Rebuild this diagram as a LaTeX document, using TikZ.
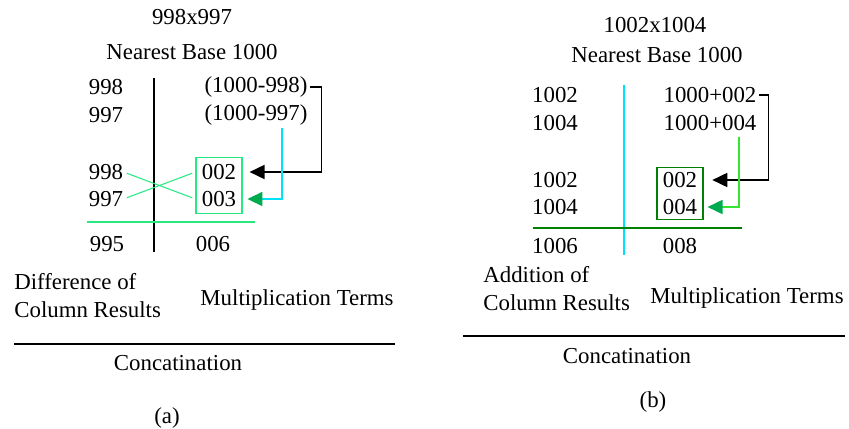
\documentclass[tikz,border=0pt]{standalone}
\usepackage{fontspec}
\setmainfont{Liberation Serif}
\usetikzlibrary{arrows.meta,fit}
\definecolor{springgreen}{RGB}{40,232,130}
\definecolor{brightcyan}{RGB}{0,225,250}
\definecolor{tipgreen}{RGB}{0,170,80}
\definecolor{boxgreen}{RGB}{0,128,0}
\definecolor{limegreen}{RGB}{50,230,50}
\begin{document}
\begin{tikzpicture}[x=0.02cm,y=-0.02cm]
        % Styles
        \tikzstyle{every node}=[inner sep=0pt,font=\fontsize{13}{16}\selectfont]
        \tikzstyle{column line}=[line width=0.6pt]
        \tikzstyle{base rule}=[line width=1.2pt]
        \tikzstyle{cross line}=[springgreen,line width=0.6pt,shorten <=2pt,shorten >=2pt]
        \tikzstyle{result box}=[draw,inner xsep=3pt,line width=0.9pt]
        \tikzstyle{link}=[line width=0.8pt,-{Triangle[length=8.5pt,width=8pt]}]
        %The graphic
        \useasboundingbox (0,0) rectangle (849,429);
        %(a) 998x997
        \node (ta) at (192,17) {998x997};
        \node (ba) at (192,52) {Nearest Base 1000};
        \node (a1) at (106,87) {998};
        \node (a2) at (106,115) {997};
        \node (ea1) at (256,87) {(1000-998)};
        \node (ea2) at (256,115) {(1000-997)};
        \node (a3) at (106,172) {998};
        \node (a4) at (106,199) {997};
        \node (da1) at (219,172) {002};
        \node (da2) at (219,199) {003};
        \node[result box,springgreen,inner ysep=3.6pt,fit=(da1)(da2)] (boxa) {};
        \node (ra1) at (107,244) {995};
        \node (ra2) at (213,244) {006};
        \node[align=left,anchor=west] (na) at (14,296) {Difference of\\Column Results};
        \node (ma) at (297,300) {Multiplication Terms};
        \node (ca) at (178,363) {Concatination};
        \node (la) at (167,418) {(a)};
        \coordinate (sa) at (282,128);
        %lines
        \draw[column line] (154,78) -- (154,252);
        \draw[springgreen,line width=0.9pt] (87,222) -- (255,222);
        \draw[cross line] (a3.east) -- (boxa.west |- da2);
        \draw[cross line] (a4.east) -- (boxa.west |- da1);
        \draw[link,shorten <=1.5pt,shorten >=4pt] (ea1.east) -- ++(14,0) |- (boxa.east |- da1);
        \draw[link,brightcyan,-{Triangle[length=8.5pt,width=8pt,tipgreen]},shorten >=2.8pt] (sa) |- (boxa.east |- da2);
        \draw[base rule] (14,344) -- (395,344);
        %(b) 1002x1004
        \node (tb) at (655,25) {1002x1004};
        \node (bb) at (657,55) {Nearest Base 1000};
        \node (b1) at (555,95) {1002};
        \node (b2) at (555,123) {1004};
        \node (eb1) at (710,95) {1000+002};
        \node (eb2) at (710,123) {1000+004};
        \node (b3) at (555,180) {1002};
        \node (b4) at (555,207) {1004};
        \node (db1) at (680,180) {002};
        \node (db2) at (680,207) {004};
        \node[result box,boxgreen,inner ysep=2.6pt,fit=(db1)(db2)] (boxb) {};
        \node (rb1) at (555,246) {1006};
        \node (rb2) at (680,246) {008};
        \node[align=left,anchor=west] (nb) at (483,289) {Addition of\\Column Results};
        \node (mb) at (747,298) {Multiplication Terms};
        \node (cb) at (627,356) {Concatination};
        \node (lb) at (653,402) {(b)};
        \coordinate (sb) at (739,137);
        %lines
        \draw[column line,brightcyan] (624,85) -- (624,255);
        \draw[boxgreen,line width=0.9pt] (533,228) -- (742,228);
        \draw[link,shorten <=1.5pt,shorten >=5pt] (eb1.east) -- ++(12,0) |- (boxb.east |- db1);
        \draw[link,limegreen,-{Triangle[length=8.5pt,width=8pt,tipgreen]},shorten >=2.3pt] (sb) |- (boxb.east |- db2);
        \draw[base rule] (463,336) -- (845,336);
\end{tikzpicture}
\end{document}
